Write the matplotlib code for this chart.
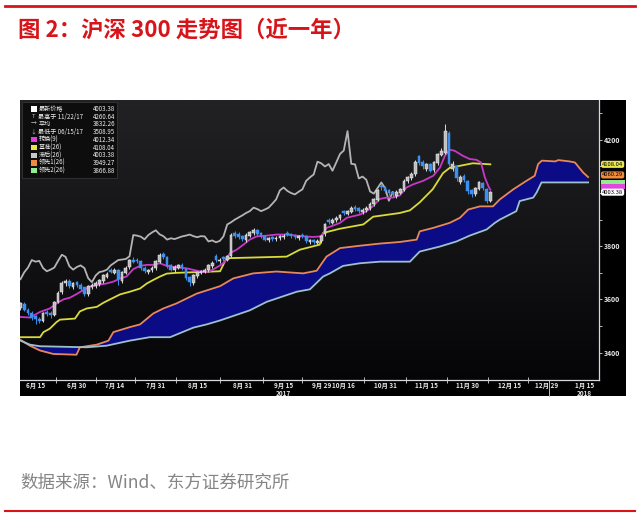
import numpy as np
import matplotlib
matplotlib.use("Agg")
import matplotlib.pyplot as plt
from matplotlib.patches import Rectangle
from matplotlib.colors import LinearSegmentedColormap

plt.rcParams['font.family'] = ['Noto Sans CJK SC', 'DejaVu Sans']

# daily candles, trading days 2017-06-09 .. 2017-12-08 (index 0..125)
opens = [3568, 3582, 3560, 3550, 3536, 3528, 3520, 3552, 3550, 3542,
         3592, 3628, 3660, 3670, 3648, 3664, 3656, 3645, 3620, 3645,
         3650, 3658, 3668, 3686, 3710, 3700, 3712, 3670, 3700, 3722,
         3750, 3750, 3744, 3720, 3702, 3710, 3718, 3742, 3770, 3758,
         3728, 3710, 3720, 3730, 3716, 3684, 3662, 3688, 3700, 3704,
         3710, 3726, 3765, 3745, 3760, 3750, 3765, 3848, 3845, 3838,
         3822, 3840, 3850, 3862, 3848, 3840, 3822, 3834, 3826, 3830,
         3835, 3850, 3846, 3840, 3830, 3842, 3838, 3815, 3824, 3814,
         3818, 3845, 3900, 3888, 3898, 3905, 3932, 3922, 3930, 3948,
         3942, 3930, 3936, 3944, 3958, 3975, 4028, 4022, 4010, 4004,
         3990, 4002, 4012, 4044, 4058, 4070, 4138, 4118, 4090, 4110,
         4085, 4112, 4145, 4150, 4225, 4090, 4100, 4040, 4065, 4045,
         4010, 3995, 4015, 4038, 4015, 3972]
highs = [3592, 3590, 3566, 3555, 3542, 3534, 3553, 3560, 3556, 3594,
         3630, 3668, 3678, 3676, 3666, 3670, 3660, 3648, 3656, 3662,
         3668, 3678, 3695, 3704, 3718, 3720, 3715, 3706, 3726, 3752,
         3758, 3756, 3748, 3724, 3716, 3725, 3750, 3775, 3778, 3762,
         3732, 3728, 3734, 3736, 3720, 3688, 3694, 3708, 3712, 3718,
         3733, 3744, 3772, 3756, 3765, 3768, 3848, 3856, 3852, 3842,
         3848, 3858, 3868, 3866, 3852, 3844, 3836, 3838, 3838, 3842,
         3846, 3856, 3850, 3845, 3844, 3848, 3842, 3828, 3828, 3826,
         3842, 3888, 3908, 3906, 3914, 3922, 3938, 3938, 3952, 3954,
         3946, 3944, 3950, 3966, 3982, 4016, 4034, 4028, 4016, 4008,
         4010, 4020, 4052, 4066, 4078, 4124, 4145, 4124, 4114, 4114,
         4120, 4152, 4168, 4260.64, 4232, 4120, 4104, 4068, 4070, 4050,
         4014, 4024, 4046, 4042, 4020, 4008]
lows = [3560, 3555, 3540, 3524, 3508.95, 3512, 3516, 3538, 3532, 3538,
        3586, 3622, 3652, 3644, 3640, 3648, 3632, 3612, 3614, 3638,
        3644, 3652, 3662, 3680, 3698, 3694, 3655, 3662, 3694, 3716,
        3736, 3738, 3712, 3700, 3696, 3704, 3712, 3736, 3752, 3720,
        3706, 3704, 3714, 3712, 3674, 3650, 3656, 3682, 3694, 3698,
        3704, 3720, 3740, 3738, 3745, 3744, 3760, 3832, 3828, 3818,
        3816, 3834, 3844, 3840, 3830, 3818, 3816, 3820, 3820, 3824,
        3828, 3838, 3832, 3826, 3824, 3830, 3812, 3808, 3808, 3808,
        3814, 3840, 3882, 3882, 3890, 3898, 3916, 3916, 3924, 3932,
        3924, 3922, 3930, 3938, 3952, 3970, 4012, 4000, 3992, 3984,
        3982, 3996, 4008, 4038, 4050, 4064, 4105, 4092, 4084, 4078,
        4080, 4106, 4138, 4146, 4100, 4082, 4046, 4034, 4040, 3998,
        3986, 3990, 4010, 4010, 3962, 3966]
closes = [3585, 3562, 3548, 3532, 3525, 3518, 3548, 3545, 3540, 3590,
          3625, 3662, 3668, 3650, 3660, 3655, 3640, 3622, 3652, 3655,
          3660, 3672, 3690, 3697, 3705, 3712, 3676, 3702, 3720, 3748,
          3742, 3745, 3718, 3706, 3712, 3720, 3745, 3768, 3760, 3725,
          3712, 3722, 3728, 3718, 3680, 3665, 3690, 3703, 3706, 3712,
          3728, 3738, 3748, 3750, 3752, 3762, 3842, 3840, 3836, 3826,
          3842, 3852, 3860, 3845, 3838, 3825, 3830, 3827, 3832, 3837,
          3840, 3844, 3838, 3834, 3838, 3837, 3818, 3822, 3815, 3820,
          3837, 3882, 3890, 3900, 3908, 3916, 3925, 3932, 3945, 3940,
          3932, 3938, 3945, 3960, 3976, 4010, 4021, 4008, 4000, 3995,
          4005, 4014, 4046, 4059, 4070, 4118, 4112, 4100, 4109, 4084,
          4115, 4147, 4160, 4233, 4110, 4108, 4055, 4062, 4050, 4006,
          3998, 4019, 4040, 4018, 3971, 4003.38]

# ichimoku lines as (day index, value) vertices
tenkan_x = [0, 2.5, 5.2, 7.8, 9.6, 11.4, 13.2, 14.9, 16.7, 18.5,
            20.3, 22.9, 24.7, 26.5, 28.2, 30.0, 31.8, 33.6, 35.3, 37.1,
            38.9, 41.5, 44.2, 46.0, 48.6, 50.4, 53.1, 54.4, 55.7, 57.5,
            59.3, 61.0, 62.8, 65.5, 68.1, 70.8, 73.5, 75.2, 77.9, 79.7,
            80.5, 81.4, 83.2, 85.0, 86.8, 88.5, 90.3, 92.1, 93.8, 95.6,
            97.4, 99.1, 100.9, 102.7, 104.5, 107.1, 109.8, 111.6, 112.9, 114.2,
            115.5, 117.7, 119.5, 121.3, 122.5, 123.5, 124.5, 125]
tenkan_y = [3534, 3532, 3553, 3566, 3585, 3600, 3607, 3620, 3635, 3648,
            3654, 3660, 3667, 3679, 3686, 3714, 3726, 3730, 3730, 3736,
            3726, 3721, 3717, 3711, 3703, 3706, 3728, 3742, 3774, 3787,
            3806, 3825, 3837, 3840, 3844, 3844, 3840, 3837, 3835, 3837,
            3847, 3869, 3878, 3888, 3907, 3913, 3919, 3932, 3951, 3978,
            3983, 3983, 3991, 4021, 4033, 4046, 4065, 4096, 4140, 4163,
            4159, 4140, 4128, 4125, 4115, 4060, 4025, 4012.34]
kijun_x = [0, 5.2, 6.1, 7.8, 9.6, 10.5, 14.5, 15.8, 17.6, 20.3,
           22.0, 23.8, 26.5, 29.1, 31.8, 33.6, 35.3, 37.1, 38.9, 41.5,
           47.7, 53.1, 54.8, 70.8, 74.3, 79.6, 80.5, 85.0, 91.2, 93.8,
           100.9, 103.6, 106.2, 109.7, 112.4, 114.2, 120.3, 125]
kijun_y = [3458, 3458, 3477, 3490, 3515, 3524, 3528, 3555, 3566, 3572,
           3587, 3600, 3619, 3629, 3641, 3660, 3673, 3686, 3697, 3700,
           3703, 3706, 3755, 3761, 3787, 3806, 3850, 3866, 3882, 3911,
           3925, 3935, 3965, 4015, 4075, 4095, 4112, 4108.04]
span_a_x = [0, 2.5, 5.2, 8.7, 14.9, 15.8, 20.3, 23.4, 24.7, 29.1,
            31.8, 35.3, 38.0, 41.5, 46.9, 53.1, 56.6, 61.9, 68.1, 75.2,
            78.8, 81.4, 85.0, 90.3, 95.6, 100.9, 105.4, 106.2, 109.8, 114.2,
            116.9, 119.1, 122.2, 125.7, 127.5, 131.1, 134.6, 136.8, 137.7, 138.7,
            142.2, 143.1, 146.1, 147.5, 149.7, 151]
span_a_y = [3448, 3426, 3408, 3395, 3392, 3420, 3430, 3445, 3477, 3496,
            3506, 3547, 3566, 3585, 3622, 3650, 3679, 3698, 3705, 3698,
            3708, 3761, 3793, 3802, 3810, 3816, 3825, 3856, 3869, 3888,
            3907, 3938, 3950, 3950, 3976, 4014, 4046, 4065, 4109, 4122,
            4119, 4124, 4119, 4115, 4077, 4060.29]
span_b_x = [0, 2.5, 5.2, 17.6, 22.9, 29.1, 34.4, 39.8, 46.0, 49.5,
            53.1, 61.0, 65.5, 73.5, 77.0, 80.5, 82.3, 85.8, 90.3, 95.6,
            103.6, 106.2, 111.6, 116.0, 119.5, 124.0, 126.2, 127.5, 131.9, 132.8,
            136.4, 137.3, 138.6, 151]
span_b_y = [3445, 3430, 3424, 3420, 3426, 3445, 3458, 3458, 3494, 3506,
            3521, 3559, 3591, 3629, 3638, 3686, 3698, 3726, 3736, 3742,
            3742, 3780, 3799, 3818, 3840, 3863, 3888, 3900, 3932, 3970,
            3983, 4002, 4040, 4040]
lag = 26

# x axis labels (trading day index)
tick_pos = [4, 15, 25, 36, 47, 59, 70, 80, 86, 97, 108, 119, 130, 140, 150]
tick_lab = ['6月 15', '6月 30', '7月 14', '7月 31', '8月 15', '8月 31', '9月 15\n2017',
            '9月 29', '10月 16', '10月 31', '11月 15', '11月 30', '12月 15', '12月 29',
            '1月 15\n2018']
tick_sep = [9.5, 20, 30.5, 41.5, 53, 64.5, 75, 91.5, 102.5, 113.5, 124.5, 135]
year_break = 140.5

# right axis (4000 label sits under the last-price tag)
ytick_pos = [3400, 3600, 3800, 4000, 4200]
ytick_lab = ['3400', '3600', '3800', '', '4200']

# legend block
leg_names = ['最新价格', '最高于 11/22/17', '平均', '最低于 06/15/17', '转换(9)',
             '基准(26)', '滞后(26)', '领先1(26)', '领先2(26)']
leg_vals = ['4003.38', '4260.64', '3832.26', '3508.95', '4012.34',
            '4108.04', '4003.38', '3949.27', '3866.88']
leg_marks = ['#ffffff', 'T', '→', '↓', '#e040e0', '#e8e84a', '#c8c8c8', '#f08a3c', '#90ee90']

# last-value tags on the right (green and magenta ones are mostly hidden)
tag_vals = [4108.04, 4060.29, 4003.38]
tag_cols = ['#e8e84a', '#f08a3c', '#ffffff']
tag_shift = [0, 1.5, 0]
strip_vals = [4040.46, 4024.0]
strip_cols = ['#90ee90', '#e048e0']

W, H = 640, 522


def frac(x0, y0, x1, y1):
    return [x0 / W, 1 - y1 / H, (x1 - x0) / W, (y1 - y0) / H]


fig = plt.figure(figsize=(6.4, 5.22), dpi=100)
red = '#d7141a'
fig.add_artist(plt.Line2D([5 / W, 635 / W], [1 - 6 / H, 1 - 6 / H], color=red, lw=2))
fig.text(18 / W, 1 - 30 / H, '图 2：沪深 300 走势图（近一年）', color=red,
         fontsize=16.1, fontweight='bold', va='center')
fig.text(20 / W, 1 - 483 / H, '数据来源：Wind、东方证券研究所', color='#858585',
         fontsize=12.6, va='center')
fig.add_artist(plt.Line2D([5 / W, 635 / W], [1 - 511 / H, 1 - 511 / H], color=red, lw=1.5))

panel = fig.add_axes(frac(20, 100, 626, 396))
panel.set_facecolor('black')
panel.set_xticks([])
panel.set_yticks([])
for s in panel.spines.values():
    s.set_visible(False)

ax = fig.add_axes(frac(20, 100, 599, 380))
ax.set_facecolor('black')
grad = LinearSegmentedColormap.from_list('bg', ['#050508', '#222224'])
ax.imshow(np.linspace(0, 1, 200).reshape(-1, 1), extent=[0, 1, 0, 1],
          transform=ax.transAxes, cmap=grad, aspect='auto', origin='lower', zorder=0)

# cloud
cloud_x = np.concatenate([span_a_x, span_b_x[::-1]])
cloud_y = np.concatenate([span_a_y, span_b_y[::-1]])
ax.fill(cloud_x, cloud_y, color='#0b0b86', lw=0, zorder=1)
ax.plot(span_a_x, span_a_y, color='#e8875a', lw=1.3, zorder=2)
ax.plot(span_b_x, span_b_y, color='#9cc0cc', lw=1.3, zorder=2)

# lines
o = np.array(opens, float)
h = np.array(highs, float)
l = np.array(lows, float)
c = np.array(closes, float)
idx = np.arange(len(c))
ax.plot(idx[:len(c) - lag], c[lag:], color='#b4b4b4', lw=1.3, zorder=2)
ax.plot(kijun_x, kijun_y, color='#dada3a', lw=1.3, zorder=3)
ax.plot(tenkan_x, tenkan_y, color='#c838c8', lw=1.3, zorder=3)

# candles
up = c >= o
ax.vlines(idx[up], l[up], h[up], color='#dcdcdc', lw=0.7, zorder=4)
ax.vlines(idx[~up], l[~up], h[~up], color='#3d90ee', lw=0.7, zorder=4)
ax.bar(idx[up], (c - o)[up], bottom=o[up], width=0.72, color='#bdbdbd',
       edgecolor='#efefef', lw=0.35, zorder=5)
ax.bar(idx[~up], (o - c)[~up], bottom=c[~up], width=0.72, color='#3d90ee',
       edgecolor='#3d90ee', lw=0.35, zorder=5)

ax.set_xlim(-0.13, 153.9)
ax.set_ylim(3297, 4350)

for side in ['top', 'left']:
    ax.spines[side].set_visible(False)
for side in ['bottom', 'right']:
    ax.spines[side].set_color('#d8d8d8')
    ax.spines[side].set_linewidth(0.9)

ax.set_xticks(tick_pos)
ax.set_xticklabels(tick_lab, fontsize=4.6, color='#e8e8e8', fontweight='bold', linespacing=1.1)
ax.set_xticks(tick_sep, minor=True)
ax.tick_params(axis='x', which='major', length=0, pad=1.5)
ax.tick_params(axis='x', which='minor', length=4, width=0.6, direction='inout', color='#d8d8d8')
ax.plot([year_break, year_break], [0, -0.057], transform=ax.get_xaxis_transform(),
        clip_on=False, color='#bbbbbb', lw=0.7)

ax.yaxis.tick_right()
ax.set_yticks(ytick_pos)
ax.set_yticklabels(ytick_lab, fontsize=5, color='#e8e8e8', fontweight='bold')
ax.set_yticks([3500, 3700, 3900, 4100, 4300], minor=True)
ax.tick_params(axis='y', which='both', length=2.5, width=0.6, color='#d8d8d8', pad=1)

ytr = ax.get_yaxis_transform()
for v, col in zip(strip_vals, strip_cols):
    ax.add_patch(Rectangle((1 + 1.5 / 579, v - 9), 24 / 579, 18, transform=ytr,
                           fc=col, ec='none', clip_on=False, zorder=9))
for v, col, dy in zip(tag_vals, tag_cols, tag_shift):
    ax.annotate(f'{v:.2f}', xy=(1, v), xycoords=ytr,
                xytext=(2.2, dy), textcoords='offset points', ha='left', va='center',
                fontsize=4.2, color='black', annotation_clip=False, zorder=10,
                bbox=dict(boxstyle='round,pad=0.18,rounding_size=0.35', fc=col, ec='none'))

# legend block (positions in pixels of the panel)


def fx(x):
    return (x - 20) / 579


def fy(y):
    return (380 - y) / 280


ax.add_patch(Rectangle((fx(22), fy(178)), 95 / 579, 76 / 280, transform=ax.transAxes,
                       fc='#0d0d0d', ec='#3c3c3c', lw=0.5, zorder=8))
for k, (name, val, mark) in enumerate(zip(leg_names, leg_vals, leg_marks)):
    yy = 109 + 7.7 * k
    if mark.startswith('#'):
        ax.add_patch(Rectangle((fx(31), fy(yy + 2.6)), 5.5 / 579, 5.2 / 280,
                               transform=ax.transAxes, fc=mark, ec='none', zorder=9))
    else:
        ax.text(fx(33.5), fy(yy), mark, transform=ax.transAxes, fontsize=4.2,
                color='#c0c0c0', ha='center', va='center', zorder=9)
    ax.text(fx(38.5), fy(yy), name, transform=ax.transAxes, fontsize=4.4,
            color='#f0f0f0', ha='left', va='center', zorder=9)
    ax.text(fx(115), fy(yy), val, transform=ax.transAxes, fontsize=4.4,
            color='#f0f0f0', ha='right', va='center', zorder=9)

fig.savefig('out.png', dpi=100)
